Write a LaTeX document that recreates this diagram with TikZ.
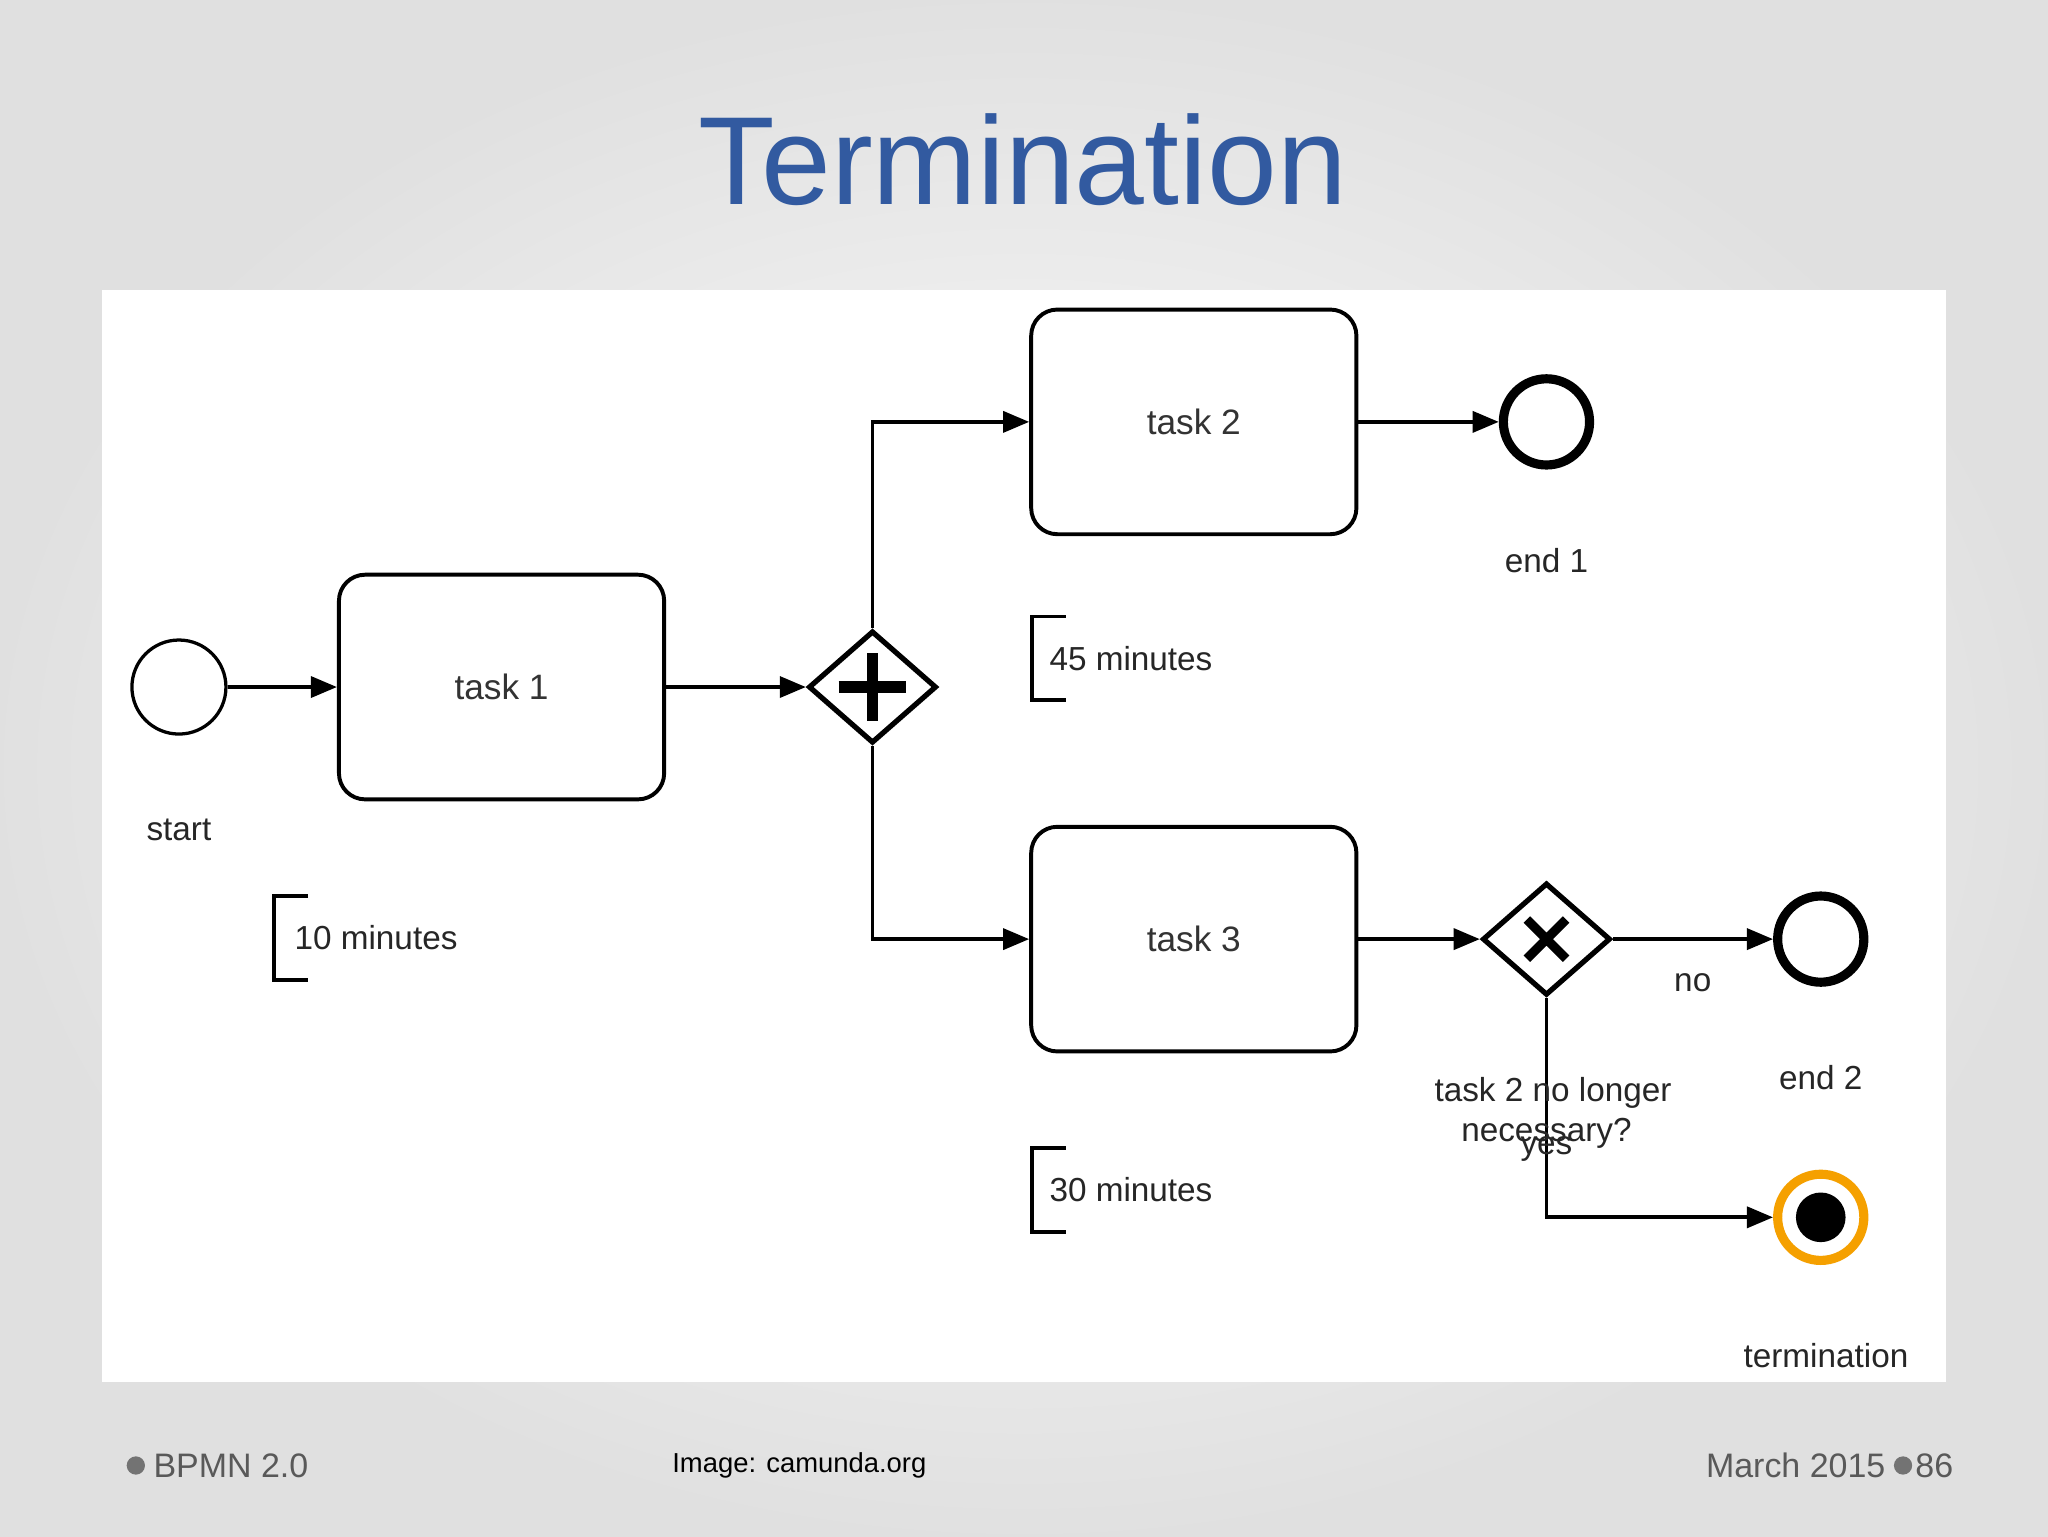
\documentclass[tikz,border=0pt]{standalone}
\usepackage{fontspec}
\setmainfont{Liberation Sans}
\usetikzlibrary{arrows.meta,shapes.geometric}
\definecolor{ttl}{RGB}{50,90,160}
\definecolor{org}{RGB}{245,160,0}
\begin{document}
\begin{tikzpicture}[x=1pt,y=-1pt,
 task/.style={draw,line width=3pt,rounded corners=20pt,minimum width=249pt,minimum height=172pt,font=\fontsize{27}{30}\selectfont,text=black!80},
 flow/.style={line width=3pt,-{Triangle[length=20pt,width=16pt]}},
 lbl/.style={font=\fontsize{25.5}{28}\selectfont,text=black!85},
 gw/.style={draw,diamond,line width=4pt,minimum width=98pt,minimum height=86pt,inner sep=0pt,fill=white}]
\shade[inner color=white,outer color=black!12] (0,0) rectangle (1568,1176);
\useasboundingbox (0,0) rectangle (1568,1176);
\fill[white] (78,222) rectangle (1490,1058);
\node[text=ttl,font=\fontsize{96}{110}\selectfont] (title) at (783,122) {Termination};
\node[draw,circle,line width=2.5pt,minimum size=72pt,inner sep=0pt] (start) at (137,526) {};
\node[task] (t1) at (384,526) {task 1};
\node[gw] (pg) at (668,526) {};
\draw[line width=9pt] (pg.center)+(-26,0) -- +(26,0) (pg.center)+(0,-26) -- +(0,26);
\node[task] (t2) at (914,323) {task 2};
\node[task] (t3) at (914,719) {task 3};
\node[draw,circle,line width=7pt,minimum size=66pt,inner sep=0pt] (e1) at (1184,323) {};
\node[gw] (xg) at (1184,719) {};
\draw[line width=7pt] (xg.center)+(-15,-15) -- +(15,15) (xg.center)+(15,-15) -- +(-15,15);
\node[draw,circle,line width=7pt,minimum size=66pt,inner sep=0pt] (e2) at (1394,719) {};
\node[draw=org,circle,line width=7pt,minimum size=66pt,inner sep=0pt] (term) at (1394,932) {};
\fill (term.center) circle (19);
\draw[flow] (start) -- (t1);
\draw[flow] (t1) -- (pg);
\draw[flow] (pg.north) |- (t2.west);
\draw[flow] (pg.south) |- (t3.west);
\draw[flow] (t2) -- (e1);
\draw[flow] (t3) -- (xg);
\draw[flow] (xg) -- (e2);
\draw[flow] (xg.south) |- (term.west);
\node[lbl] (ls) at (137,635) {start};
\node[lbl] (le1) at (1184,429) {end 1};
\node[lbl] (le2) at (1394,825) {end 2};
\node[lbl] (lno) at (1296,752) {no};
\node[lbl] (lq) at (1189,837) {task 2 no longer};
\node[lbl] (lq2) at (1184,868) {necessary?};
\node[lbl] (lyes) at (1184,880) {yes};
\node[lbl] (lterm) at (1398,1038) {termination};
\draw[line width=3pt] (236,686) -- (210,686) -- (210,750) -- (236,750);
\node[lbl,anchor=west] (m10) at (222,718) {10 minutes};
\draw[line width=3pt] (816,472) -- (790,472) -- (790,536) -- (816,536);
\node[lbl,anchor=west] (m45) at (800,504) {45 minutes};
\draw[line width=3pt] (816,879) -- (790,879) -- (790,943) -- (816,943);
\node[lbl,anchor=west] (m30) at (800,911) {30 minutes};
\fill[black!55] (104,1122) circle (7);
\node[anchor=west,text=black!65,font=\fontsize{26}{30}\selectfont] (f1) at (114,1122) {BPMN 2.0};
\node[font=\fontsize{21}{25}\selectfont] (f2) at (612,1122) {Image: camunda.org};
\node[anchor=east,text=black!65,font=\fontsize{26}{30}\selectfont] (f3) at (1447,1122) {March 2015};
\fill[black!55] (1457,1122) circle (7);
\node[anchor=west,text=black!65,font=\fontsize{26}{30}\selectfont] (f4) at (1463,1122) {86};
\end{tikzpicture}
\end{document}
